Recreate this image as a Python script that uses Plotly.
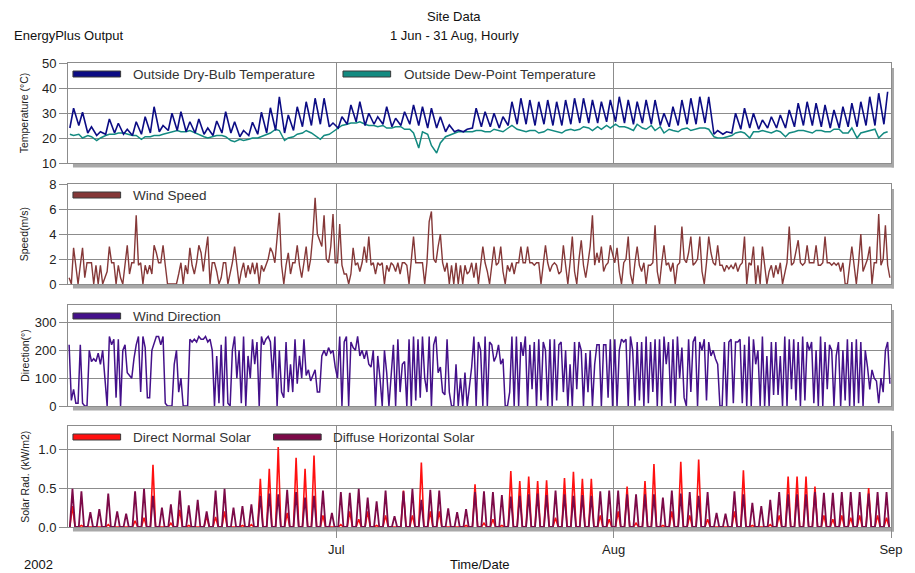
import pandas as pd
import plotly.graph_objects as go
from plotly.subplots import make_subplots

# ---------------- data ----------------
start = pd.Timestamp("2002-06-01")
n_days = 92

drybulb_max = [31.9, 30.3, 24.5, 22.5, 27.6, 25.9, 23.5, 26.5, 28.5, 32.5,
               25.0, 29.9, 30.5, 26.5, 27.6, 24.0, 26.8, 30.5, 26.5, 23.0,
               26.3, 30.3, 32.1, 36.5, 29.2, 32.5, 34.5, 35.9, 35.9, 26.0,
               28.5, 33.2, 34.5, 29.9, 28.5, 32.5, 27.9, 30.5, 33.2, 32.5,
               31.9, 28.5, 25.2, 23.2, 23.5, 31.9, 30.5, 29.9, 28.5, 34.5,
               35.9, 35.2, 34.5, 35.2, 34.5, 35.2, 35.9, 35.9, 35.2, 34.5,
               35.2, 36.5, 35.2, 34.5, 35.2, 35.2, 29.9, 32.5, 35.2, 35.9,
               36.5, 36.5, 23.0, 22.5, 29.9, 31.9, 29.9, 27.2, 28.5, 29.2,
               31.2, 33.9, 34.5, 33.9, 33.2, 31.2, 32.5, 33.9, 34.5, 36.5,
               37.9, 38.5]
drybulb_min = [24.0, 25.0, 22.0, 21.0, 21.5, 22.0, 21.5, 21.0, 21.5, 22.0,
               22.5, 23.0, 23.0, 22.5, 22.0, 21.5, 21.0, 22.0, 22.0, 20.5,
               21.0, 21.5, 22.0, 23.0, 22.0, 23.0, 24.5, 25.0, 25.5, 24.5,
               24.0, 25.5, 26.5, 25.0, 25.5, 25.5, 24.5, 25.0, 25.5, 25.0,
               24.0, 24.0, 22.5, 22.5, 22.5, 24.0, 24.5, 24.5, 24.0, 25.0,
               25.5, 25.5, 25.0, 25.5, 25.0, 25.0, 25.5, 26.0, 26.0, 26.0,
               26.5, 26.5, 26.0, 25.5, 26.0, 25.5, 25.0, 24.5, 25.0, 25.5,
               25.5, 26.0, 21.5, 21.5, 22.0, 23.5, 24.0, 23.5, 24.0, 24.0,
               24.0, 24.5, 25.0, 25.0, 24.5, 24.0, 24.0, 24.5, 24.5, 25.0,
               25.0, 25.5]

dewpoint_am = [21.5, 21.5, 21.0, 19.0, 21.0, 21.5, 22.0, 21.0, 19.5, 20.5,
               21.0, 22.0, 23.0, 22.5, 22.0, 20.5, 20.5, 21.0, 19.0, 19.5,
               19.5, 20.0, 21.5, 23.5, 19.0, 20.5, 22.0, 22.0, 19.5, 21.5,
               24.0, 25.5, 26.0, 25.5, 25.0, 25.0, 24.0, 24.5, 23.5, 16.0,
               21.5, 14.0, 20.5, 22.0, 22.5, 22.5, 23.0, 22.5, 23.0, 24.0,
               23.5, 22.5, 23.0, 22.5, 23.0, 22.0, 23.5, 23.5, 24.0, 24.5,
               25.0, 25.5, 24.5, 23.0, 24.0, 25.0, 24.5, 23.5, 22.5, 24.0,
               23.5, 24.0, 20.5, 20.0, 21.0, 22.5, 20.0, 22.5, 22.5, 23.0,
               20.5, 22.5, 23.0, 22.0, 23.0, 22.5, 23.5, 22.0, 20.0, 22.5,
               23.5, 22.0]
dewpoint_pm = [21.0, 20.0, 20.5, 20.0, 21.5, 22.0, 21.5, 21.0, 20.5, 21.0,
               21.5, 22.5, 22.5, 23.0, 21.5, 20.0, 21.0, 20.5, 18.5, 19.0,
               20.0, 20.5, 22.0, 23.0, 20.0, 21.5, 23.0, 21.0, 21.0, 22.5,
               25.0, 26.0, 26.5, 25.0, 24.5, 24.0, 24.5, 23.5, 22.0, 22.5,
               17.0, 18.0, 21.0, 22.5, 22.5, 23.0, 22.5, 23.5, 22.5, 25.0,
               23.0, 23.0, 22.0, 23.5, 22.5, 23.0, 23.0, 24.5, 23.0, 23.5,
               24.0, 24.5, 24.0, 25.5, 23.5, 23.0, 22.0, 23.0, 23.5, 23.0,
               24.0, 23.5, 20.0, 20.5, 22.0, 22.0, 22.5, 23.0, 22.0, 22.5,
               22.0, 23.0, 22.5, 23.0, 22.5, 23.5, 22.0, 24.0, 22.0, 23.0,
               20.0, 22.5]

# wind speed, four readings per day (03, 09, 15, 21 h)
wind_speed = [
    [0.5, 0.0, 2.9, 1.5], [0.0, 1.5, 2.9, 0.5], [1.7, 1.7, 1.7, 0.0], [1.5, 0.0, 1.5, 0.0],
    [0.5, 1.0, 3.0, 1.7], [1.7, 0.0, 1.5, 0.5], [0.0, 1.5, 3.1, 0.8], [1.7, 1.7, 5.5, 1.5],
    [1.7, 0.0, 1.5, 0.8], [1.5, 0.8, 3.1, 2.5], [1.7, 1.7, 3.1, 1.5], [0.0, 0.0, 0.0, 0.0],
    [0.0, 0.8, 1.7, 0.0], [1.5, 0.8, 2.9, 1.5], [0.8, 1.7, 3.1, 2.5], [1.0, 2.5, 3.8, 0.0],
    [1.7, 1.7, 1.0, 0.0], [0.5, 1.7, 1.7, 0.0], [0.8, 1.7, 3.0, 1.5], [0.0, 1.0, 1.7, 0.5],
    [1.5, 0.8, 1.7, 0.8], [1.7, 0.0, 1.5, 1.0], [1.5, 2.0, 2.9, 2.5], [1.7, 3.8, 5.7, 1.5],
    [0.0, 1.5, 2.5, 0.8], [1.7, 1.7, 3.1, 1.5], [0.5, 1.7, 3.0, 1.0], [2.0, 4.0, 6.9, 4.0],
    [3.5, 3.0, 5.5, 2.0], [1.7, 3.0, 5.6, 1.7], [1.7, 4.8, 1.5, 0.8], [0.8, 0.0, 0.8, 2.9],
    [1.5, 1.7, 1.0, 1.7], [3.0, 1.7, 3.8, 1.5], [1.7, 0.8, 1.7, 1.5], [1.7, 0.0, 1.5, 1.0],
    [1.7, 1.5, 1.0, 1.7], [0.8, 1.7, 1.7, 1.5], [0.0, 1.7, 3.8, 1.7], [1.7, 1.7, 1.7, 0.0],
    [1.7, 5.0, 5.8, 2.0], [1.7, 3.0, 4.0, 1.7], [1.0, 1.7, 0.0, 1.5], [0.0, 1.7, 0.0, 1.5],
    [0.0, 1.5, 0.8, 1.0], [1.7, 0.5, 1.7, 0.0], [1.5, 3.0, 1.7, 1.0], [0.0, 1.7, 3.0, 1.5],
    [1.7, 3.0, 1.0, 0.0], [1.5, 1.0, 1.7, 0.8], [1.7, 1.7, 3.0, 1.7], [1.7, 3.0, 1.7, 1.7],
    [1.5, 1.7, 1.7, 0.0], [1.7, 3.1, 1.7, 1.0], [1.5, 1.7, 1.5, 0.8], [1.0, 3.1, 1.5, 0.0],
    [1.7, 3.8, 1.0, 0.0], [2.0, 3.5, 1.5, 0.5], [1.7, 3.0, 5.5, 1.5], [2.5, 1.7, 3.0, 1.0],
    [1.5, 1.7, 3.1, 2.5], [1.7, 2.9, 1.0, 0.0], [1.7, 2.0, 3.8, 0.8], [0.0, 1.7, 3.0, 1.5],
    [1.0, 1.7, 0.0, 1.5], [1.5, 1.7, 4.7, 1.0], [0.0, 1.7, 3.1, 1.5], [1.7, 1.0, 1.7, 0.0],
    [1.5, 1.7, 4.6, 2.0], [1.7, 2.5, 3.8, 1.5], [1.7, 2.0, 3.8, 1.0], [0.0, 1.7, 3.8, 2.5],
    [1.7, 1.5, 3.1, 1.5], [1.5, 1.0, 1.5, 1.2], [1.5, 1.2, 1.7, 1.0], [1.5, 1.7, 3.8, 0.0],
    [1.7, 1.5, 3.0, 0.0], [1.5, 0.0, 3.0, 1.5], [0.0, 1.0, 1.5, 0.5], [1.5, 0.8, 1.7, 0.0],
    [1.0, 1.7, 4.6, 1.5], [1.7, 2.5, 3.5, 1.7], [1.5, 1.7, 3.1, 1.7], [1.7, 1.7, 3.1, 1.5],
    [1.5, 1.7, 3.8, 1.7], [1.7, 1.5, 1.7, 1.5], [1.7, 1.0, 1.7, 0.0], [0.0, 1.7, 3.0, 1.5],
    [0.0, 1.7, 4.0, 1.0], [1.5, 2.0, 3.0, 0.0], [1.7, 1.7, 5.6, 1.5], [2.0, 4.7, 1.5, 0.5],
]
wind_hours = [3, 9, 15, 21]

# wind direction, four readings per day (03, 09, 15, 21 h)
wind_dir = [
    [220, 20, 60, 10], [10, 220, 10, 0], [0, 200, 160, 170], [160, 190, 150, 200],
    [100, 0, 250, 220], [240, 30, 240, 0], [200, 220, 120, 110], [100, 170, 220, 250],
    [50, 250, 210, 30], [30, 200, 230, 250], [250, 220, 250, 10], [0, 0, 0, 150],
    [200, 50, 100, 0], [0, 0, 240, 230], [240, 230, 250, 240], [240, 250, 230, 240],
    [200, 0, 180, 10], [220, 0, 250, 10], [0, 200, 250, 100], [200, 10, 250, 0],
    [180, 100, 240, 150], [230, 0, 250, 220], [240, 250, 230, 100], [250, 0, 200, 50],
    [30, 230, 50, 150], [50, 240, 80, 180], [100, 240, 110, 130], [90, 110, 130, 50],
    [50, 180, 200, 180], [210, 190, 200, 140], [100, 250, 0, 230], [250, 0, 230, 210],
    [200, 250, 180, 200], [170, 200, 150, 140], [200, 0, 180, 100], [0, 200, 120, 0],
    [110, 220, 0, 240], [50, 150, 160, 0], [240, 0, 250, 20], [240, 30, 250, 100],
    [50, 250, 0, 220], [250, 120, 140, 50], [40, 240, 50, 0], [0, 150, 0, 100],
    [0, 120, 0, 80], [140, 250, 0, 230], [200, 0, 250, 0], [230, 220, 160, 180],
    [220, 150, 170, 0], [0, 50, 250, 0], [250, 0, 230, 180], [250, 0, 220, 60],
    [230, 0, 240, 20], [230, 200, 0, 240], [0, 240, 20, 220], [230, 50, 200, 0],
    [150, 0, 230, 60], [230, 200, 0, 190], [50, 200, 0, 150], [220, 220, 0, 220],
    [220, 30, 240, 0], [240, 0, 200, 240], [230, 240, 0, 250], [200, 0, 230, 20],
    [230, 0, 250, 10], [230, 50, 240, 0], [240, 0, 250, 150], [230, 10, 240, 0],
    [250, 100, 210, 30], [0, 240, 50, 230], [250, 0, 230, 200], [240, 20, 230, 180],
    [200, 170, 150, 0], [0, 230, 0, 230], [240, 10, 230, 230], [240, 10, 220, 0],
    [250, 0, 240, 150], [200, 0, 250, 0], [180, 0, 230, 40], [230, 40, 180, 0],
    [250, 0, 240, 60], [240, 20, 230, 0], [250, 20, 230, 200], [230, 10, 200, 0],
    [250, 0, 230, 60], [220, 200, 0, 180], [230, 0, 200, 20], [240, 0, 230, 0],
    [240, 10, 230, 0], [200, 140, 60, 130], [100, 90, 10, 100], [50, 200, 230, 80],
]

# solar noon peaks (kW/m2); night value is zero
direct_peak = [0.27, 0.02, 0.00, 0.00, 0.03, 0.00, 0.00, 0.08, 0.12, 0.80,
               0.00, 0.05, 0.22, 0.02, 0.00, 0.14, 0.13, 0.20, 0.00, 0.02,
               0.03, 0.62, 0.75, 1.03, 0.18, 0.89, 0.75, 0.92, 0.15, 0.00,
               0.03, 0.20, 0.10, 0.20, 0.02, 0.15, 0.00, 0.47, 0.15, 0.83,
               0.20, 0.20, 0.00, 0.00, 0.02, 0.55, 0.05, 0.10, 0.02, 0.72,
               0.59, 0.65, 0.59, 0.60, 0.12, 0.63, 0.71, 0.62, 0.62, 0.15,
               0.10, 0.20, 0.52, 0.05, 0.59, 0.81, 0.02, 0.20, 0.84, 0.15,
               0.87, 0.10, 0.00, 0.00, 0.20, 0.73, 0.02, 0.00, 0.03, 0.15,
               0.65, 0.65, 0.65, 0.52, 0.15, 0.10, 0.15, 0.12, 0.15, 0.50,
               0.15, 0.12]
diffuse_peak = [0.49, 0.46, 0.19, 0.23, 0.43, 0.20, 0.17, 0.46, 0.49, 0.40,
                0.25, 0.29, 0.47, 0.28, 0.35, 0.20, 0.47, 0.49, 0.25, 0.27,
                0.29, 0.40, 0.43, 0.42, 0.48, 0.45, 0.38, 0.40, 0.47, 0.18,
                0.45, 0.44, 0.49, 0.38, 0.33, 0.47, 0.14, 0.46, 0.49, 0.35,
                0.48, 0.47, 0.24, 0.19, 0.23, 0.45, 0.46, 0.45, 0.41, 0.39,
                0.40, 0.42, 0.43, 0.41, 0.47, 0.42, 0.40, 0.41, 0.40, 0.46,
                0.47, 0.47, 0.42, 0.42, 0.42, 0.42, 0.38, 0.47, 0.43, 0.45,
                0.40, 0.45, 0.18, 0.17, 0.46, 0.42, 0.31, 0.27, 0.35, 0.45,
                0.42, 0.42, 0.42, 0.45, 0.44, 0.44, 0.45, 0.45, 0.45, 0.43,
                0.45, 0.45]
solar_night = 0.0
solar_hours = [5, 12, 19]

month_ticks = ["2002-07-01", "2002-08-01", "2002-09-01"]
month_labels = ["Jul", "Aug", "Sep"]

# ---------------- build hourly-stamped series ----------------
days = pd.date_range(start, periods=n_days, freq="D")
H = pd.Timedelta(hours=1)

t_temp, v_dry, v_dew = [], [], []
for i, d in enumerate(days):
    t_temp += [d + 5 * H, d + 15 * H]
    v_dry += [drybulb_min[i], drybulb_max[i]]
    v_dew += [dewpoint_am[i], dewpoint_pm[i]]

t_wind, v_ws, v_wd = [], [], []
for i, d in enumerate(days):
    for k, h in enumerate(wind_hours):
        t_wind.append(d + h * H)
        v_ws.append(wind_speed[i][k])
        v_wd.append(wind_dir[i][k])

t_sol, v_dir, v_dif = [], [], []
for i, d in enumerate(days):
    for h in solar_hours:
        t_sol.append(d + h * H)
    v_dir += [solar_night, direct_peak[i], solar_night]
    v_dif += [solar_night, diffuse_peak[i], solar_night]

# ---------------- figure ----------------
C_DRY, C_DEW = "#0c0c84", "#138a80"
C_WS, C_WD = "#853838", "#44118a"
C_DIR, C_DIF = "#ff1010", "#7c0a48"
GRID = "#8c8c8c"
FONT = "Liberation Sans, Arial, sans-serif"

fig = make_subplots(rows=4, cols=1, shared_xaxes=True, vertical_spacing=0.02)
fig.add_trace(go.Scatter(x=t_temp, y=v_dew, mode="lines", line=dict(color=C_DEW, width=1.5)), 1, 1)
fig.add_trace(go.Scatter(x=t_temp, y=v_dry, mode="lines", line=dict(color=C_DRY, width=1.6)), 1, 1)
fig.add_trace(go.Scatter(x=t_wind, y=v_ws, mode="lines", line=dict(color=C_WS, width=1.4)), 2, 1)
fig.add_trace(go.Scatter(x=t_wind, y=v_wd, mode="lines", line=dict(color=C_WD, width=1.5)), 3, 1)
fig.add_trace(go.Scatter(x=t_sol, y=v_dir, mode="lines", line=dict(color=C_DIR, width=1.6)), 4, 1)
fig.add_trace(go.Scatter(x=t_sol, y=v_dif, mode="lines", line=dict(color=C_DIF, width=1.8)), 4, 1)

# page offset: the HTML body has an 8px margin, so figure coords = page coords - 8
OFF = 8
PAGE_W, PAGE_H = 915, 573
W, Hpx = PAGE_W - OFF, PAGE_H - OFF
# page-pixel layout of the plot area
L_PAGE, R_PAGE, T_PAGE, B_PAGE = 68, 897, 63, 527
ml = L_PAGE - OFF
mr = W - (R_PAGE - OFF)
mt = T_PAGE - OFF
mb = Hpx - (B_PAGE - OFF)
ph = Hpx - mt - mb
pw = W - ml - mr

def ydom(top_px, bot_px):
    return [(B_PAGE - bot_px) / ph, (B_PAGE - top_px) / ph]

domains = [ydom(63, 163), ydom(184, 284), ydom(305, 406), ydom(426, 527)]
ranges = [[10, 50], [0, 8], [0, 363], [0, 1.3]]
tickvals = [[10, 20, 30, 40, 50], [0, 2, 4, 6, 8], [0, 100, 200, 300], [0, 0.5, 1.0]]

tickfont = dict(family=FONT, size=13, color="#222")
for r in range(4):
    ya = "yaxis" if r == 0 else f"yaxis{r+1}"
    xa = "xaxis" if r == 0 else f"xaxis{r+1}"
    fig.layout[ya].update(domain=domains[r], range=ranges[r], tickvals=tickvals[r],
                          showgrid=True, gridcolor=GRID, gridwidth=1, zeroline=False,
                          showline=True, linecolor=GRID, linewidth=1, mirror=True,
                          ticks="outside", ticklen=8, tickcolor=GRID, tickfont=tickfont,
                          tickformat=".1f" if r == 3 else None, fixedrange=True)
    fig.layout[xa].update(range=[start, pd.Timestamp("2002-09-01")], type="date",
                          tickvals=month_ticks, ticktext=month_labels,
                          showgrid=True, gridcolor=GRID, gridwidth=1, zeroline=False,
                          showline=True, linecolor=GRID, linewidth=1, mirror=True,
                          showticklabels=(r == 3), ticks="outside" if r == 3 else "",
                          ticklen=10, tickcolor=GRID, tickfont=tickfont)

shapes, annots = [], []
SHADOW = "#a8a8a8"
px = lambda x: (x - L_PAGE) / pw          # page x -> paper x
py = lambda y: (B_PAGE - y) / ph          # page y -> paper y
for r in range(4):
    yd = "y domain" if r == 0 else f"y{r+1} domain"
    hp = (domains[r][1] - domains[r][0]) * ph
    shapes.append(dict(type="rect", xref="paper", yref=yd, x0=px(73), x1=px(900),
                       y0=-4.5 / hp, y1=-0.6 / hp, fillcolor=SHADOW, line_width=0, layer="below"))
    shapes.append(dict(type="rect", xref="paper", yref=yd, x0=px(897.6), x1=px(900),
                       y0=-4.5 / hp, y1=1 - 5 / hp, fillcolor=SHADOW, line_width=0, layer="below"))

legend_items = [
    (0, 73, 121, 131, C_DRY, "Outside Dry-Bulb Temperature"),
    (0, 345, 393, 404, C_DEW, "Outside Dew-Point Temperature"),
    (1, 73, 121, 131, C_WS, "Wind Speed"),
    (2, 73, 121, 131, C_WD, "Wind Direction"),
    (3, 73, 121, 131, C_DIR, "Direct Normal Solar"),
    (3, 275, 323, 333, C_DIF, "Diffuse Horizontal Solar"),
]
for r, x0, x1, xt, col, txt in legend_items:
    yd = "y domain" if r == 0 else f"y{r+1} domain"
    hp = (domains[r][1] - domains[r][0]) * ph
    yc = 1 - 11 / hp
    shapes.append(dict(type="rect", xref="paper", yref=yd, x0=px(x0), x1=px(x1),
                       y0=yc - 3 / hp, y1=yc + 3 / hp, fillcolor=col,
                       line=dict(color="#3a3a3a", width=1)))
    annots.append(dict(xref="paper", yref=yd, x=px(xt), y=yc, text=txt, showarrow=False,
                       xanchor="left", yanchor="middle",
                       font=dict(family=FONT, size=13.5, color="#333")))

ytitles = ["Temperature (°C)", "Speed(m/s)", "Direction(°)", "Solar Rad. (kW/m2)"]
for r, t in enumerate(ytitles):
    yd = "y domain" if r == 0 else f"y{r+1} domain"
    annots.append(dict(xref="paper", yref=yd, x=px(24), y=0.5, text=t, showarrow=False,
                       textangle=-90, xanchor="center", yanchor="middle",
                       font=dict(family=FONT, size=10.5, color="#222")))

top_texts = [
    (457, 16, "center", "Site Data"),
    (457, 35, "center", "1 Jun - 31 Aug, Hourly"),
    (12, 35, "left", "EnergyPlus Output"),
    (38, 564, "center", "2002"),
    (482, 564, "center", "Time/Date"),
]
for x, y, anc, t in top_texts:
    annots.append(dict(xref="paper", yref="paper", x=px(x), y=py(y), text=t, showarrow=False,
                       xanchor=anc, yanchor="middle",
                       font=dict(family=FONT, size=13, color="#111")))

fig.update_layout(width=W, height=Hpx, margin=dict(l=ml, r=mr, t=mt, b=mb),
                  paper_bgcolor="white", plot_bgcolor="white", showlegend=False,
                  shapes=shapes, annotations=annots, font=dict(family=FONT))

fig.write_html("out.html")
